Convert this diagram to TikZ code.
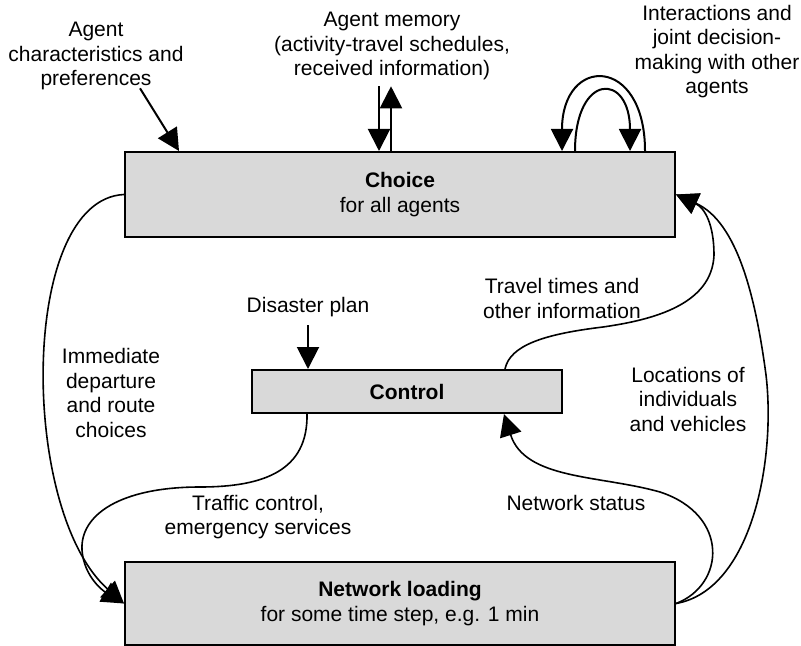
\documentclass[tikz,border=0pt]{standalone}
\usepackage{fontspec}
\setmainfont{Liberation Sans}
\usetikzlibrary{arrows.meta,calc}
\begin{document}
\begin{tikzpicture}[x=.5pt,y=-.5pt,
	box/.style={draw,line width=1pt,fill=black!15,align=center,inner sep=0pt,font=\fontsize{10.5pt}{12.25pt}\selectfont},
	lbl/.style={align=center,inner sep=0pt,font=\fontsize{10.5pt}{12.25pt}\selectfont},
	arr/.style={line width=1pt,-{Triangle[length=11pt,width=11pt]}},
	flow/.style={line width=.8pt,-{Triangle[length=11pt,width=11pt]}}]
\useasboundingbox (0,0) rectangle (801,646);
\begin{scope}
	\node[box,minimum width=275pt,minimum height=42.5pt] (choice) at (400,194.5) {\textbf{Choice}\\for all agents};
	\node[box,minimum width=155pt,minimum height=21.5pt] (control) at (407,391.5) {\textbf{Control}};
	\node[box,minimum width=275pt,minimum height=41.5pt] (netload) at (400,603.5) {\textbf{Network loading}\\for some time step, e.g. 1 min};
\end{scope}
\begin{scope}
	\node[lbl] (agentchar) at (96,56) {Agent\\characteristics and\\preferences};
	\node[lbl] (memory) at (392,46) {Agent memory\\(activity-travel schedules,\\received information)};
	\node[lbl] (interact) at (717,51.5) {Interactions and\\joint decision-\\making with other\\agents};
	\node[lbl] (disaster) at (308,307) {Disaster plan};
	\node[lbl] (immediate) at (111,393) {Immediate\\departure\\and route\\choices};
	\node[lbl] (traffic) at (258,517) {Traffic control,\\emergency services};
	\node[lbl] (travel) at (562,298.5) {Travel times and\\other information};
	\node[lbl] (locations) at (688,399) {Locations of\\individuals\\and vehicles};
	\node[lbl] (status) at (576,503) {Network status};
\end{scope}
\draw[arr] ($(agentchar.south)+(44,-2)$) -- ($(choice.north west)+(55,0)$);
\draw[arr] ($(memory.south)+(-13,6)$) coordinate (m1) -- (m1 |- choice.north);
\draw[arr] ($(choice.north west)+(267,0)$) coordinate (m2) -- (m2 |- m1);
\draw[arr] ($(choice.north west)+(521,0)$) .. controls +(0,-96) and +(0,-96) .. ($(choice.north west)+(438,0)$);
\draw[arr] ($(choice.north west)+(451,0)$) .. controls +(0,-79) and +(0,-79) .. ($(choice.north west)+(506,0)$);
\draw[arr] ($(disaster.south)+(0,8)$) -- (disaster.south |- control.north);

\draw[flow] (choice.west) .. controls +(-105,5) and +(-105,-93) .. (netload.west);
\draw[flow] ($(control.south west)+(56,0)$) .. controls (308,470) and (265,487) .. (200,487)
	.. controls (120,487) and (80,515) .. (82,550) .. controls (84,578) and (105,592) .. (netload.west);
\draw[flow] ($(control.north west)+(254,0)$) .. controls (510,345) and (545,334) .. (603,327)
	.. controls (652,320) and (712,305) .. (714,255) .. controls (714,225) and (705,208) .. (choice.east);
\draw[flow] (netload.east) .. controls (752,590) and (776,460) .. (766,375)
	.. controls (756,300) and (738,222) .. (choice.east);
\draw[flow] (netload.east) .. controls (725,585) and (730,515) .. (660,492)
	.. controls (600,475) and (525,480) .. ($(control.south west)+(253,0)$);
\end{tikzpicture}
\end{document}
